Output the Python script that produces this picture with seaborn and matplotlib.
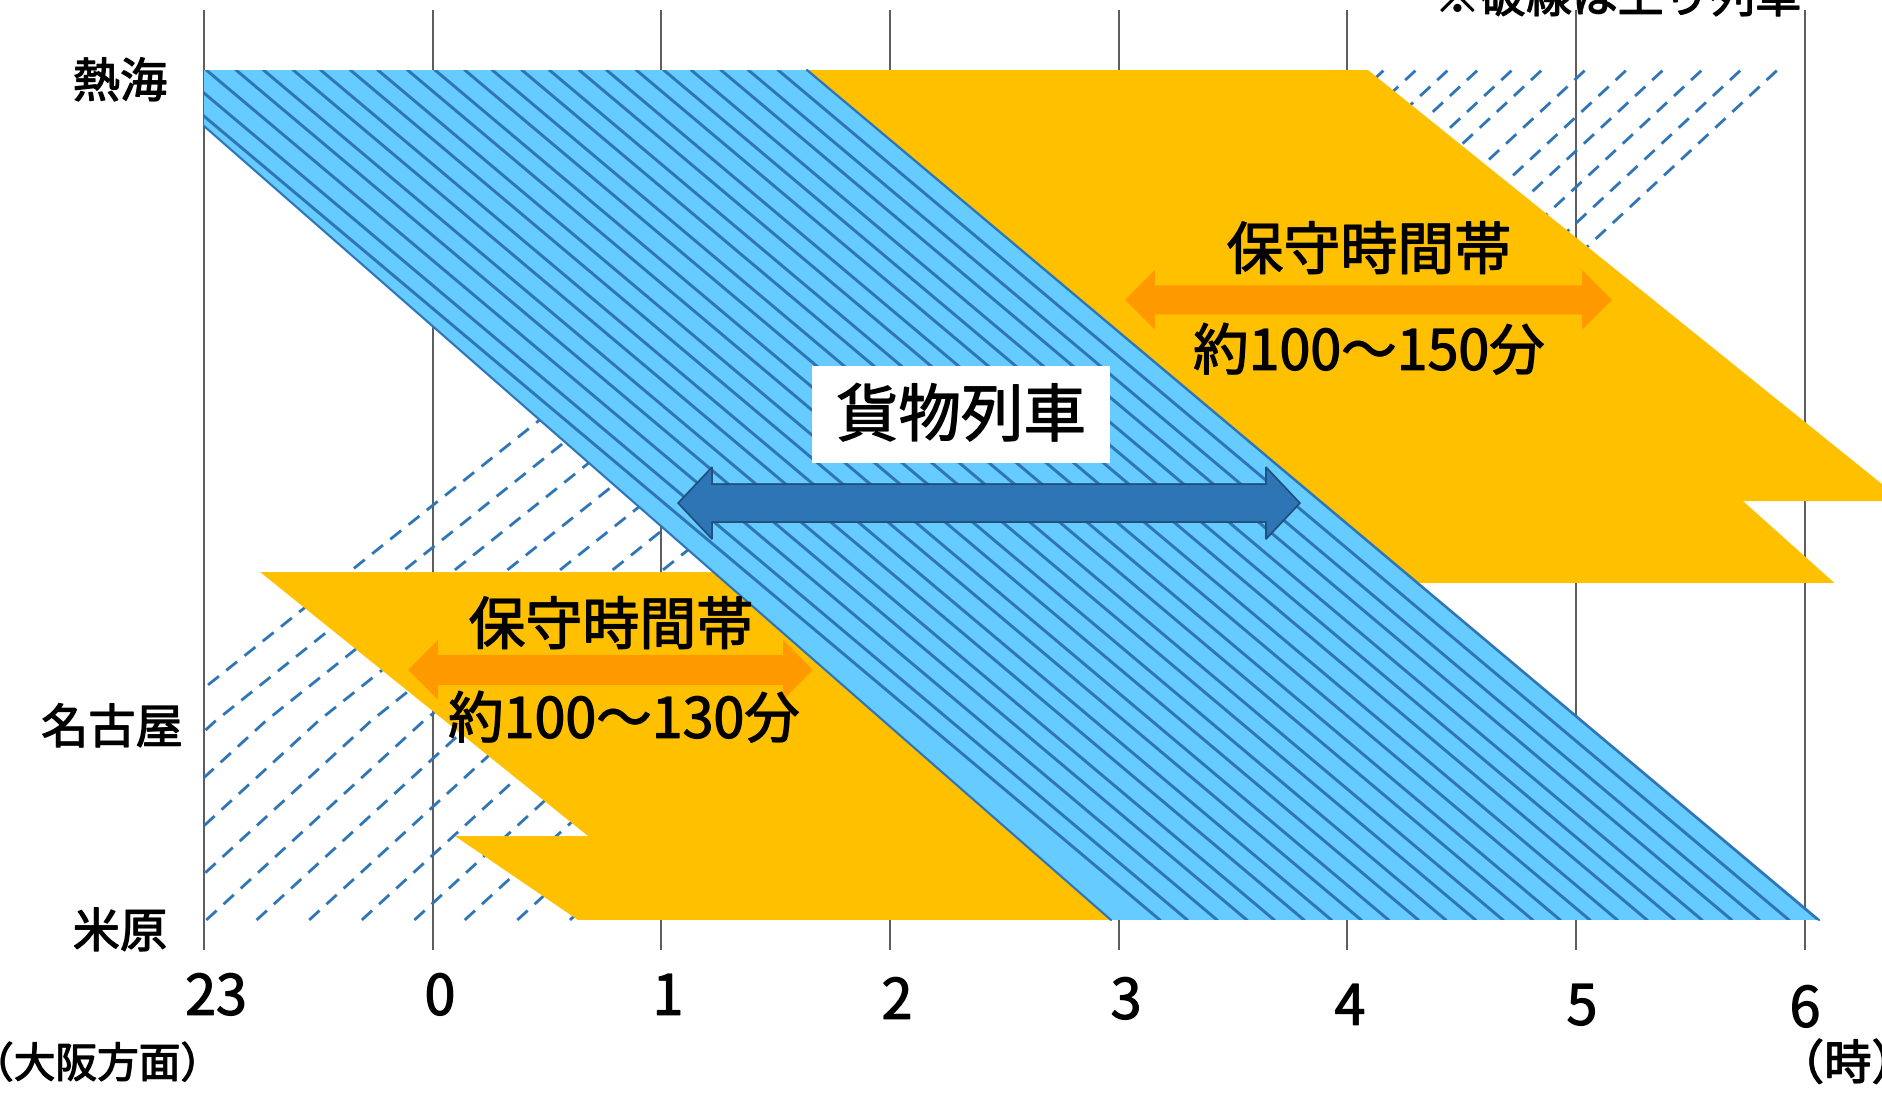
import matplotlib
matplotlib.use("Agg")
import matplotlib.pyplot as plt
import matplotlib.patheffects as pe
import seaborn as sns
import pandas as pd
from matplotlib.patches import Polygon, Rectangle

# ---------------- data ----------------
stations = ["熱海", "名古屋", "米原"]
station_km = [104.6, 366.0, 445.9]

hour_ticks = [-1, 0, 1, 2, 3, 4, 5, 6]
hour_labels = ["23", "0", "1", "2", "3", "4", "5", "6"]

# down freight trains (熱海 -> 米原): time leaving 熱海 (hours from midnight)
freight_dep_atami = [-1.24, -1.12, -0.99, -0.86, -0.74, -0.61, -0.49, -0.36,
                     -0.24, -0.11, 0.01, 0.14, 0.26, 0.39, 0.51, 0.64, 0.76,
                     0.89, 1.01, 1.13, 1.26, 1.38, 1.51, 1.64]
freight_run_hours = 4.42

# outline of the freight band (time, km)
band_time = [-1.0, 1.637, 6.062, 2.966, -1.0]
band_km = [104.6, 104.6, 445.9, 445.9, 127.1]

# up trains (dashed) - evening group leaving 米原
up_eve_dep_maibara = [-2.13, -1.90, -1.68, -1.45, -1.22, -0.99, -0.77, -0.54,
                      -0.31, -0.08, 0.14, 0.37, 0.60]
up_eve_km = [445.9, 366.0, 220.0]
up_eve_offset = [0.0, 0.95, 2.94]
# up trains (dashed) - morning group arriving 熱海
up_morn_arr_atami = [3.98, 4.16, 4.30, 4.44, 4.57, 4.72, 4.85, 5.04,
                     5.22, 5.38, 5.55, 5.72, 5.88]
up_morn_km = [300.0, 104.6]
up_morn_offset = [-2.29, 0.0]

# maintenance windows (time, km)
maint_up_time = [1.17, 4.09, 6.43, 5.73, 6.13, 4.01]
maint_up_km = [104.6, 104.6, 277.7, 277.7, 310.6, 310.6]
maint_low_time = [-0.755, 1.43, 3.14, 0.635, 0.097, 0.679]
maint_low_km = [306.2, 306.2, 445.9, 445.9, 412.2, 412.2]

# span arrows: (start hour, end hour, km)
freight_span = (1.073, 3.792, 278.5)
maint_up_span = (3.027, 5.157, 196.9)
maint_low_span = (-0.108, 1.663, 345.5)

maint_up_text = ["保守時間帯", "約100～150分"]
maint_low_text = ["保守時間帯", "約100～130分"]
freight_text = "貨物列車"
note_text = "※破線は上り列車"
west_text = "（大阪方面）"
unit_text = "（時）"

# ---------------- layout helpers ----------------
W, H = 1883, 1096
PX_HR = 228.7     # pixels per hour
PX_KM = 2.4905    # pixels per km
def hx(px):
    return -1 + (px - 204) / PX_HR
def ky(py):
    return 104.6 + (py - 70) / PX_KM

sns.set_theme(style="white")
plt.rcParams["font.family"] = ["Noto Sans CJK JP", "DejaVu Sans"]
plt.rcParams["text.color"] = "black"

fig = plt.figure(figsize=(W / 100, H / 100), dpi=100)
ax = fig.add_axes([0, 0, 1, 1])
ax.set_xlim(hx(0), hx(W))
ax.set_ylim(ky(H), ky(0))
ax.axis("off")

BLUE_LINE = "#2E75B6"
BLUE_FILL = "#66CCFF"
ORANGE = "#FFC000"
ORANGE_ARROW = "#FF9900"
TXT = "black"
BOLDEN = [pe.withStroke(linewidth=0.9, foreground="black")]

# hour grid lines
ax.vlines(hour_ticks, ky(10), ky(950), color="#4d4d4d", lw=1.3, zorder=1)

# up trains (dashed)
rows = []
for i, t in enumerate(up_eve_dep_maibara):
    for k, off in zip(up_eve_km, up_eve_offset):
        rows.append(("e%d" % i, t + off, k))
for i, t in enumerate(up_morn_arr_atami):
    for k, off in zip(up_morn_km, up_morn_offset):
        rows.append(("m%d" % i, t + off, k))
df_up = pd.DataFrame(rows, columns=["train", "time", "km"])
n0 = len(ax.lines)
sns.lineplot(data=df_up, x="time", y="km", units="train", estimator=None,
             sort=False, color=BLUE_LINE, lw=2.1, legend=False, ax=ax, zorder=2)
clip_rect = Rectangle((-1, 0), 20, 1000, transform=ax.transData,
                      fill=False, visible=False)
ax.add_patch(clip_rect)
for ln in ax.lines[n0:]:
    ln.set_linestyle((0, (4.8, 3.2)))
    ln.set_dash_capstyle("butt")
    ln.set_clip_path(clip_rect)

# maintenance windows
ax.add_patch(Polygon(list(zip(maint_up_time, maint_up_km)), closed=True,
                     fc=ORANGE, ec="none", zorder=3))
ax.add_patch(Polygon(list(zip(maint_low_time, maint_low_km)), closed=True,
                     fc=ORANGE, ec="none", zorder=3))

# freight band
band = Polygon(list(zip(band_time, band_km)), closed=True, fc=BLUE_FILL,
               ec="none", zorder=4)
ax.add_patch(band)
rows = []
for i, t in enumerate(freight_dep_atami):
    rows.append((i, t, station_km[0]))
    rows.append((i, t + freight_run_hours, station_km[2]))
df_f = pd.DataFrame(rows, columns=["train", "time", "km"])
n0 = len(ax.lines)
sns.lineplot(data=df_f, x="time", y="km", units="train", estimator=None,
             sort=False, color=BLUE_LINE, lw=2.2, legend=False, ax=ax, zorder=5)
for ln in ax.lines[n0:]:
    ln.set_clip_path(band)
ax.plot([band_time[4], band_time[3]], [band_km[4], band_km[3]],
        color=BLUE_LINE, lw=1.6, zorder=5)
ax.plot([band_time[1], band_time[2]], [band_km[1], band_km[2]],
        color=BLUE_LINE, lw=1.6, zorder=5)
ax.set_xlabel("")
ax.set_ylabel("")

# double arrows
def double_arrow(span, shaft_px, head_px, headlen_px, fc, ec, lw, z):
    t0, t1, km = span
    hl = headlen_px / PX_HR
    sh = shaft_px / PX_KM
    hh = head_px / PX_KM
    verts = [(t0, km), (t0 + hl, km - hh), (t0 + hl, km - sh),
             (t1 - hl, km - sh), (t1 - hl, km - hh), (t1, km),
             (t1 - hl, km + hh), (t1 - hl, km + sh), (t0 + hl, km + sh),
             (t0 + hl, km + hh)]
    ax.add_patch(Polygon(verts, closed=True, fc=fc, ec=ec, lw=lw, zorder=z,
                         joinstyle="miter"))

double_arrow(maint_up_span, 14.5, 30, 30, ORANGE_ARROW, "none", 0, 6)
double_arrow(maint_low_span, 15, 30, 30, ORANGE_ARROW, "none", 0, 6)
double_arrow(freight_span, 19, 36, 34, BLUE_LINE, "#1F4E79", 1.3, 6)

# freight label box
ax.add_patch(Rectangle((hx(812), ky(366)), hx(1110) - hx(812),
                       ky(463) - ky(366), fc="white", ec="none", zorder=6))

def label(xp, yp, s, size, ha="center"):
    ax.text(hx(xp), ky(yp), s, fontsize=size, ha=ha, va="center",
            zorder=7, color=TXT, path_effects=BOLDEN)

label(961, 418, freight_text, 45)

# maintenance texts
label(1369, 253, maint_up_text[0], 41)
label(1369, 354, maint_up_text[1], 40)
label(611, 628, maint_low_text[0], 41)
label(624, 722, maint_low_text[1], 40)

# station labels
label_x_px = [120, 112, 120]
label_y_px = [84, 730, 934]
for name, xp, yp in zip(stations, label_x_px, label_y_px):
    label(xp, yp, name, 34)

# hour labels
tick_x_px = [216, 440, 668, 897, 1126, 1350, 1582, 1805]
tick_y_px = [999, 999, 999, 1003, 1003, 1009, 1009, 1011]
for lab, xp, yp in zip(hour_labels, tick_x_px, tick_y_px):
    label(xp, yp, lab, 40)

label(97, 1066, west_text, 30)
label(1777, 1066, unit_text, 34, ha="left")
label(1618, -1, note_text, 33)

fig.savefig("out.png", dpi=100)
